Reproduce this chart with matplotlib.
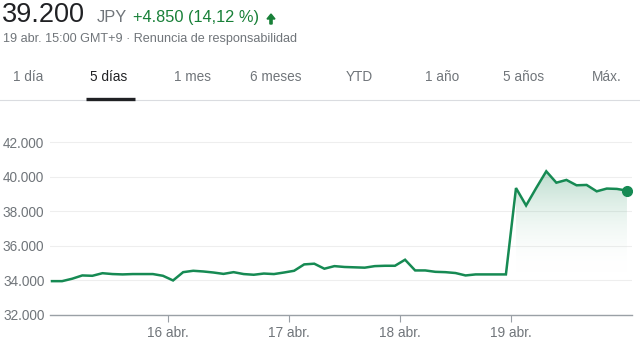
import numpy as np
import matplotlib
matplotlib.use("Agg")
import matplotlib.pyplot as plt
from matplotlib.patches import Polygon, FancyArrow
from matplotlib.colors import LinearSegmentedColormap

# 5-day price series (JPY), evenly spaced samples
prices = [33960, 33960, 34100, 34290, 34270, 34420, 34370, 34350, 34370, 34370,
          34370, 34270, 34000, 34480, 34560, 34520, 34460, 34380, 34480, 34370,
          34330, 34400, 34370, 34460, 34560, 34930, 34970, 34680, 34830, 34780,
          34760, 34740, 34830, 34850, 34850, 35200, 34580, 34580, 34500, 34480,
          34430, 34290, 34350, 34350, 34350, 34350, 39350, 38340, 39350, 40320,
          39660, 39820, 39510, 39530, 39160, 39320, 39300, 39200]
day_start = 46          # first sample of 19 abr. (shaded part)
prev_close = 34350
day_ticks = [11.5, 23.5, 34.5, 45.5]
day_labels = ["16 abr.", "17 abr.", "18 abr.", "19 abr."]
y_ticks = [32000, 34000, 36000, 38000, 40000, 42000]
tabs = ["1 día", "5 días", "1 mes", "6 meses", "YTD", "1 año", "5 años", "Máx."]
tab_x = [28, 109, 193, 276, 359, 442, 524, 607]

GREEN = "#168a53"
TXT_GREEN = "#188038"
GREY = "#70757a"
plt.rcParams["font.family"] = ["Liberation Sans", "DejaVu Sans"]

W, H = 640, 360
fig = plt.figure(figsize=(W / 100, H / 100), dpi=100)


def fx(px):
    return px / W


def fy(py):
    return 1 - py / H


# header
fig.text(fx(2), fy(21.5), "39.200", fontsize=19.5, color="#202124", va="baseline")
fig.text(fx(97), fy(22), "JPY", fontsize=11.8, color=GREY, va="baseline")
fig.text(fx(133), fy(22), "+4.850 (14,12 %)", fontsize=11.8, color=TXT_GREEN,
         va="baseline")
# small up arrow (pixel coords, origin bottom-left)
fig.add_artist(FancyArrow(271, H - 24, 0, 10, width=2.2, head_width=8, head_length=5,
                          length_includes_head=True, color=TXT_GREEN, transform=None))
fig.text(fx(3), fy(42), "19 abr. 15:00 GMT+9 \u00b7 Renuncia de responsabilidad",
         fontsize=9.1, color=GREY, va="baseline")

for lbl, x in zip(tabs, tab_x):
    fig.text(fx(x), fy(81), lbl, fontsize=9.8, ha="center", va="baseline",
             color="#202124" if lbl == "5 días" else GREY)
fig.add_artist(plt.Line2D([0, 1], [fy(99.5), fy(99.5)], color="#dadce0", lw=0.8))
fig.add_artist(plt.Line2D([fx(86), fx(135)], [fy(99), fy(99)], color="#202124", lw=2.4,
                          solid_capstyle="butt"))

# chart
ax = fig.add_axes([fx(50), fy(315), fx(632 - 50), (315 - 125) / H])
x = np.arange(len(prices))
ax.set_xlim(-0.2, 57.5)
ax.set_ylim(32000, 43000)

ax.plot(x, prices, color=GREEN, lw=1.8, solid_joinstyle="miter", zorder=3)
ax.plot(x[-1], prices[-1], "o", color=GREEN, ms=7, zorder=4)

# gradient fill under the last day
xs = x[day_start:]
ys = prices[day_start:]
verts = [(xs[0], prev_close)] + list(zip(xs, ys)) + [(xs[-1], prev_close)]
poly = Polygon(verts, closed=True, facecolor="none", edgecolor="none")
ax.add_patch(poly)
cmap = LinearSegmentedColormap.from_list("g", [(1, 1, 1, 0), (0.09, 0.54, 0.33, 0.3)])
grad = np.linspace(0, 1, 256).reshape(-1, 1)
im = ax.imshow(grad, cmap=cmap, aspect="auto", origin="lower",
               extent=[xs[0], xs[-1], prev_close, max(ys)], zorder=2)
im.set_clip_path(poly)

ax.set_yticks(y_ticks)
ax.set_yticklabels([f"{v:,}".replace(",", ".") for v in y_ticks])
ax.set_xticks(day_ticks)
ax.set_xticklabels(day_labels)
ax.grid(axis="y", color="#eeeeee", lw=0.8)
ax.set_axisbelow(True)
for s in ["top", "right", "left"]:
    ax.spines[s].set_visible(False)
ax.spines["bottom"].set_color("#9aa0a6")
ax.spines["bottom"].set_linewidth(1.0)
ax.tick_params(axis="y", length=0, pad=4, labelsize=9.8, labelcolor=GREY)
ax.tick_params(axis="x", length=5, color="#9aa0a6", pad=3, labelsize=9.8, labelcolor=GREY)

fig.savefig("out.png", dpi=100)
